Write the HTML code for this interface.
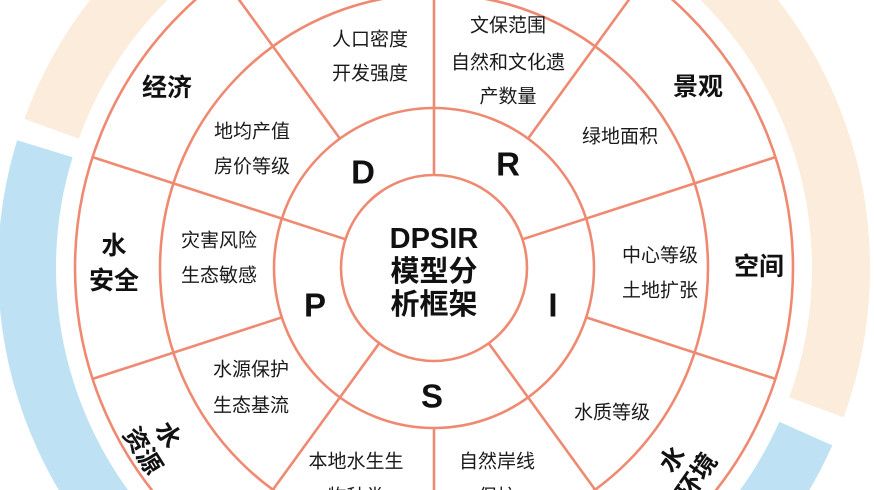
<!DOCTYPE html>
<html><head><meta charset="utf-8"><style>
html,body{margin:0;padding:0;background:#fff;width:874px;height:490px;overflow:hidden}
svg{display:block}
text{font-family:"Liberation Sans","Noto Sans CJK SC",sans-serif;fill:#1a1a1a;text-anchor:middle;dominant-baseline:central}
.s{font-size:19px}
.b{font-size:25px;font-weight:bold;fill:#111}
.L{font-size:33px;font-weight:bold;fill:#111}
.c{font-size:29px;font-weight:bold;fill:#111}
</style></head><body>
<svg width="874" height="490" viewBox="0 0 874 490">
<g transform="translate(434,268)">
<circle r="407" fill="none" stroke="#fcecdb" stroke-width="58" stroke-dasharray="1278.6 5000" transform="rotate(200)"/>
<circle r="407" fill="none" stroke="#bee2f3" stroke-width="58" stroke-dasharray="1229 5000" transform="rotate(24)"/>
<g fill="none" stroke="#ef8a72" stroke-width="2.6">
<circle r="359"/><circle r="274"/><circle r="160"/><circle r="93"/>
</g>
</g>
<g stroke="#ef8a72" stroke-width="2.6">
<line x1="434" y1="175" x2="434" y2="-91"/>
<line x1="522.4" y1="239.3" x2="775.4" y2="157.1"/>
<line x1="488.7" y1="343.2" x2="645" y2="558.4"/>
<line x1="379.3" y1="343.2" x2="223" y2="558.4"/>
<line x1="345.6" y1="239.3" x2="92.6" y2="157.1"/>
<line x1="528" y1="138.6" x2="645" y2="-22.4"/>
<line x1="339.9" y1="138.6" x2="223" y2="-22.4"/>
<line x1="281.8" y1="317.4" x2="92.6" y2="378.9"/>
<line x1="434" y1="428" x2="434" y2="627"/>
<line x1="586.2" y1="317.4" x2="775.4" y2="378.9"/>
</g>
<text class="c" x="434" y="239">DPSIR</text>
<text class="c" x="434" y="272">模型分</text>
<text class="c" x="434" y="305">析框架</text>
<text class="L" x="363" y="172">D</text>
<text class="L" x="508" y="164">R</text>
<text class="L" x="553" y="305">I</text>
<text class="L" x="432" y="396">S</text>
<text class="L" x="315" y="305">P</text>
<text class="s" x="370" y="40">人口密度</text>
<text class="s" x="370" y="74">开发强度</text>
<text class="s" x="508" y="26">文保范围</text>
<text class="s" x="508" y="63">自然和文化遗</text>
<text class="s" x="508" y="97">产数量</text>
<text class="s" x="620" y="137">绿地面积</text>
<text class="s" x="660" y="256">中心等级</text>
<text class="s" x="660" y="291">土地扩张</text>
<text class="s" x="612" y="413">水质等级</text>
<text class="s" x="497" y="462">自然岸线</text>
<text class="s" x="497" y="497">保护</text>
<text class="s" x="356" y="462">本地水生生</text>
<text class="s" x="356" y="497">物种类</text>
<text class="s" x="251" y="370">水源保护</text>
<text class="s" x="251" y="406">生态基流</text>
<text class="s" x="219" y="241">灾害风险</text>
<text class="s" x="219" y="276">生态敏感</text>
<text class="s" x="252" y="132">地均产值</text>
<text class="s" x="252" y="167">房价等级</text>
<text class="b" x="167" y="88">经济</text>
<text class="b" x="698" y="87">景观</text>
<text class="b" x="759" y="267">空间</text>
<text class="b" x="114" y="246">水</text>
<text class="b" x="114" y="281">安全</text>
<g transform="translate(155,443) rotate(58)">
<text class="b" x="0" y="-15">水</text>
<text class="b" x="0" y="15">资源</text>
</g>
<g transform="translate(685,468) rotate(-55)">
<text class="b" x="0" y="-15">水</text>
<text class="b" x="0" y="15">环境</text>
</g>
</svg>
</body></html>
